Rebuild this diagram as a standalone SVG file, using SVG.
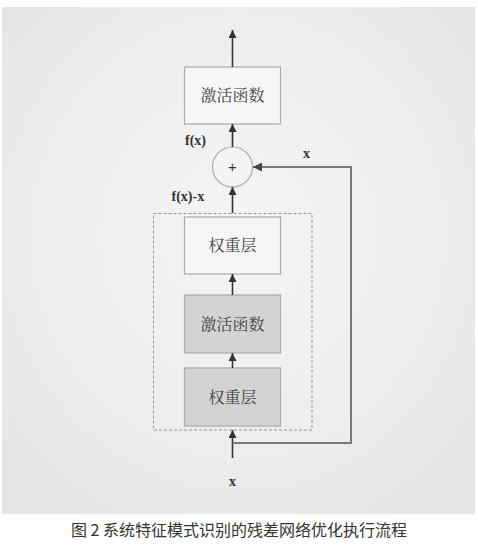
<svg xmlns="http://www.w3.org/2000/svg" width="478" height="545" viewBox="0 0 478 545">
<defs>
<radialGradient id="bg" cx="0.5" cy="0.45" r="0.65">
<stop offset="0" stop-color="#f4f4f4"/>
<stop offset="0.6" stop-color="#eeeeef"/>
<stop offset="1" stop-color="#e5e6e8"/>
</radialGradient>
<marker id="ah" viewBox="0 0 10 10" refX="10" refY="5" markerWidth="8" markerHeight="8" markerUnits="userSpaceOnUse" orient="auto">
<path d="M0,0 L10,5 L0,10 Z" fill="#333"/>
</marker>
<marker id="ahg" viewBox="0 0 10 10" refX="10" refY="5" markerWidth="9" markerHeight="9" markerUnits="userSpaceOnUse" orient="auto">
<path d="M0,0 L10,5 L0,10 Z" fill="#444"/>
</marker>
</defs>
<style>
.box{stroke:#aaaaaa;stroke-width:1.2}
.white{fill:#f6f6f6}
.gray{fill:#d3d3d3}
.lbl{font-family:"Noto Serif CJK SC","Noto Sans CJK SC",serif;font-size:16px;fill:#444;text-anchor:middle}
.var{font-family:"Liberation Serif",serif;font-weight:bold;font-size:14px;fill:#333}
.arr{stroke:#333;stroke-width:1.6;fill:none}
.fb{stroke:#777;stroke-width:2;fill:none}
.cap{font-family:"Noto Sans CJK SC",sans-serif;font-size:16px;fill:#333;text-anchor:middle}
</style>
<rect x="0" y="0" width="478" height="545" fill="#ffffff"/>
<rect x="2" y="7" width="473" height="507" fill="url(#bg)"/>

<g id="residual-block">
<rect x="153.5" y="213.5" width="158.5" height="216.5" fill="none" stroke="#999" stroke-width="1" stroke-dasharray="3,2"/>
</g>

<g id="act-top">
<rect class="box white" x="184.5" y="67" width="96" height="57"/>
<text class="lbl" x="232.5" y="101">激活函数</text>
</g>

<g id="add">
<circle cx="232.5" cy="167" r="20" fill="#f4f4f4" stroke="#aaa" stroke-width="1.2"/>
<text x="232.5" y="172" font-family="Liberation Sans,sans-serif" font-size="15" fill="#333" text-anchor="middle">+</text>
</g>

<g id="weight-top">
<rect class="box white" x="184.5" y="217" width="96" height="57"/>
<text class="lbl" x="232.5" y="251">权重层</text>
</g>

<g id="act-mid">
<rect class="box gray" x="184.5" y="295" width="96" height="58"/>
<text class="lbl" x="232.5" y="330">激活函数</text>
</g>

<g id="weight-bottom">
<rect class="box gray" x="184.5" y="368" width="96" height="58"/>
<text class="lbl" x="232.5" y="403">权重层</text>
</g>

<g id="connectors">
<line class="arr" x1="232.5" y1="67" x2="232.5" y2="30" marker-end="url(#ah)"/>
<line class="arr" x1="232.5" y1="147" x2="232.5" y2="124" marker-end="url(#ah)"/>
<line class="arr" x1="232.5" y1="213" x2="232.5" y2="187" marker-end="url(#ah)"/>
<line class="arr" x1="232.5" y1="295" x2="232.5" y2="274" marker-end="url(#ah)"/>
<line class="arr" x1="232.5" y1="368" x2="232.5" y2="353" marker-end="url(#ah)"/>
<line class="arr" x1="232.5" y1="458" x2="232.5" y2="430" marker-end="url(#ah)"/>
<polyline class="fb" points="232.5,443 351,443 351,167 253,167" marker-end="url(#ahg)"/>
</g>

<g id="labels">
<text class="var" x="185" y="145">f(x)</text>
<text class="var" x="303" y="158" font-size="15">x</text>
<text class="var" x="171.5" y="201">f(x)-x</text>
<text class="var" x="232.5" y="486" text-anchor="middle" font-size="15">x</text>
</g>

<text class="cap" x="239" y="536">图 2 系统特征模式识别的残差网络优化执行流程</text>
</svg>
